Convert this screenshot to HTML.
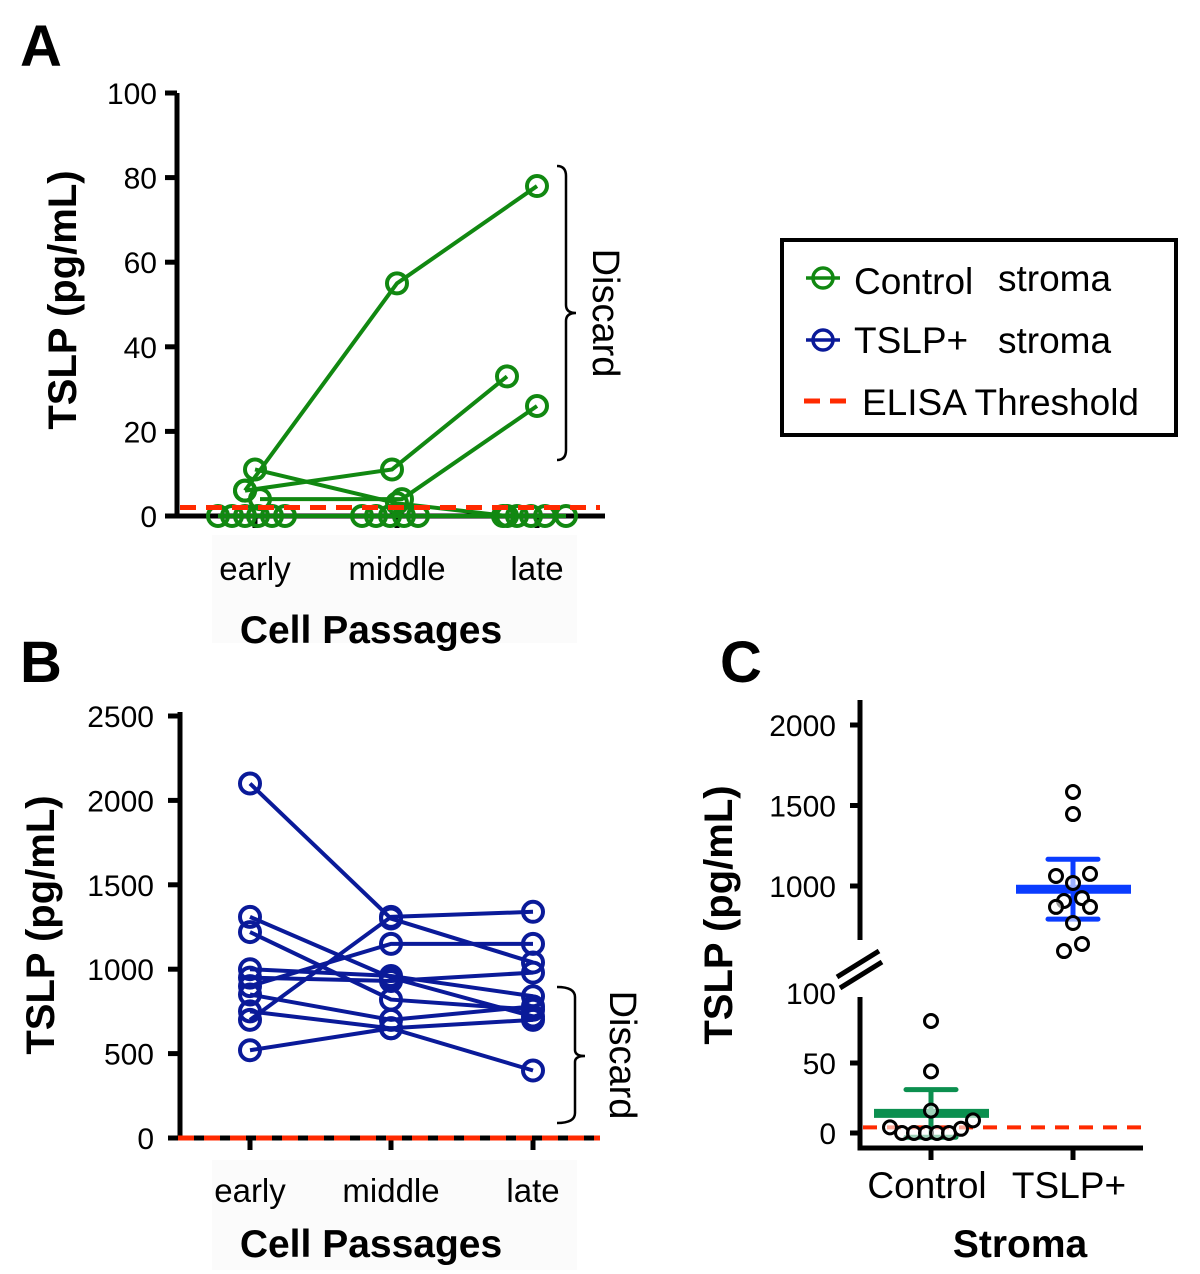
<!DOCTYPE html>
<html><head><meta charset="utf-8"><style>
html,body{margin:0;padding:0;background:#fff}
svg{display:block;font-family:"Liberation Sans",Arial,sans-serif}
</style></head><body>
<svg id="fig" width="1200" height="1274" viewBox="0 0 1200 1274" xmlns="http://www.w3.org/2000/svg">
<rect x="212" y="535" width="365" height="108" fill="#fbfbfb"/>
<rect x="212" y="1160" width="365" height="110" fill="#fbfbfb"/>
<text x="20" y="66" font-size="58" font-weight="bold">A</text>
<text x="20" y="682" font-size="58" font-weight="bold">B</text>
<text x="720" y="682" font-size="58" font-weight="bold">C</text>
<text transform="translate(76,300) rotate(-90)" text-anchor="middle" font-size="40" font-weight="bold">TSLP (pg/mL)</text>
<text transform="translate(54,925) rotate(-90)" text-anchor="middle" font-size="40" font-weight="bold">TSLP (pg/mL)</text>
<text transform="translate(732,915) rotate(-90)" text-anchor="middle" font-size="40" font-weight="bold">TSLP (pg/mL)</text>
<text x="371" y="643" text-anchor="middle" font-size="39" font-weight="bold">Cell Passages</text>
<text x="371" y="1257" text-anchor="middle" font-size="39" font-weight="bold">Cell Passages</text>
<text x="1020" y="1257" text-anchor="middle" font-size="39" font-weight="bold">Stroma</text>
<g>
<path d="M557,166 Q566,166 566,176 L566,305 Q566,313 576,313 Q566,313 566,321 L566,450 Q566,460 557,460" fill="none" stroke="#000" stroke-width="2.5"/>
<text transform="translate(593,313) rotate(90)" text-anchor="middle" font-size="38">Discard</text>
</g>
<g>
<path d="M557,987 Q575,987 575,997 L575,1050 Q575,1056 585,1056 Q575,1056 575,1062 L575,1113 Q575,1123 557,1123" fill="none" stroke="#000" stroke-width="2.5"/>
<text transform="translate(610,1055) rotate(90)" text-anchor="middle" font-size="38">Discard</text>
</g>
<g>
<rect x="782" y="240" width="394" height="195" fill="#fff" stroke="#000" stroke-width="4"/>
<line x1="806" y1="278" x2="840" y2="278" stroke="#118811" stroke-width="3.5"/>
<circle cx="823" cy="278" r="10" fill="none" stroke="#118811" stroke-width="3.5"/>
<text x="854" y="294" font-size="37">Control</text><text x="998" y="291" font-size="37">stroma</text>
<line x1="806" y1="340" x2="840" y2="340" stroke="#0a1a99" stroke-width="3.5"/>
<circle cx="823" cy="340" r="10" fill="none" stroke="#0a1a99" stroke-width="3.5"/>
<text x="854" y="353" font-size="37">TSLP+</text><text x="998" y="353" font-size="37">stroma</text>
<line x1="804" y1="401" x2="852" y2="401" stroke="#ff2a00" stroke-width="5" stroke-dasharray="16,10"/>
<text x="862" y="415" font-size="37">ELISA Threshold</text>
</g>
<g id="pa"></g><g id="pb"></g><g id="pc"></g>
</svg>
<script>
// Panel A data
const passages = ["early","middle","late"];
const aTicks = [0,20,40,60,80,100];
const aSeries = [[6,55,78],[11,3,0],[6,11,33],[4,4,26]];
const aSeriesX = [[-10,0,0],[0,0,-30],[-10,-5,-30],[5,5,0]];
const aZeroOffsets = [[-37,-23,-10,3,17,30],[-35,-21,-7,7,21],[-34,-20,-6,8,29]];
const aThreshold = 2;
// Panel B data
const bTicks = [0,500,1000,1500,2000,2500];
const bSeries = [[2100,1300,1040],[1310,950,720],[1220,820,760],[700,1310,1340],[900,1150,1150],[1000,960,840],[950,930,980],[850,700,780],[750,650,400],[520,650,700]];
const bThreshold = 0;
// Panel C data
const cGroups = ["Control","TSLP+"];
const cUpperTicks = [1000,1500,2000];
const cLowerTicks = [0,50,100];
const cControl = [4,0,0,0,0,0,3,9,16,44,80];
const cControlDx = [-41,-29,-17,-5,6,18,30,42,0,0,0];
const cTslp = [1584,1447,1062,1075,1019,907,925,870,870,770,640,596];
const cTslpDx = [0,0,-17,17,0,-9,9,-17,17,0,9,-9];
const cControlMean = 14, cControlSem = 17;
const cTslpMean = 980, cTslpSem = 186;
const cThreshold = 4;

const NS="http://www.w3.org/2000/svg";
function mk(parent,tag,attrs){const e=document.createElementNS(NS,tag);for(const k in attrs)e.setAttribute(k,attrs[k]);parent.appendChild(e);return e;}
const TF=30, XF=33;

// ---- Panel A
(function(){
const g=document.getElementById('pa');
const y=v=>516-v*4.23, xc=[255,397,537];
const ax=mk(g,'path',{d:'M177,93 L177,516 L605,516',fill:'none',stroke:'#000','stroke-width':5});


aTicks.forEach(t=>{mk(g,'line',{x1:165,x2:177,y1:y(t),y2:y(t),stroke:'#000','stroke-width':5});
const tl=mk(g,'text',{x:157,y:y(t)+11,'text-anchor':'end','font-size':TF});tl.textContent=t;

});
passages.forEach((p,i)=>{mk(g,'line',{x1:xc[i],x2:xc[i],y1:516,y2:528,stroke:'#000','stroke-width':5});
const tl=mk(g,'text',{x:xc[i],y:580,'text-anchor':'middle','font-size':XF});tl.textContent=p;

});
const C='#118811';
mk(g,'line',{x1:xc[0]+aZeroOffsets[0][0],x2:xc[2]+aZeroOffsets[2][4],y1:y(0),y2:y(0),stroke:C,'stroke-width':4});
aZeroOffsets.forEach((offs,i)=>offs.forEach(o=>{const c=mk(g,'circle',{cx:xc[i]+o,cy:y(0),r:10,fill:'none',stroke:C,'stroke-width':4});

}));
aSeries.forEach((s,k)=>{const pts=s.map((v,i)=>[xc[i]+aSeriesX[k][i],y(v)]);
const l=mk(g,'polyline',{points:pts.map(p=>p.join(',')).join(' '),fill:'none',stroke:C,'stroke-width':4});


pts.forEach(p=>{const c=mk(g,'circle',{cx:p[0],cy:p[1],r:10,fill:'none',stroke:C,'stroke-width':4});

});});
const th=mk(g,'line',{x1:180,x2:600,y1:y(aThreshold),y2:y(aThreshold),stroke:'#ff2a00','stroke-width':5,'stroke-dasharray':'16,10'});


})();

// ---- Panel B
(function(){
const g=document.getElementById('pb');
const y=v=>1138-v*0.1688, xc=[250,391,533];
const ax=mk(g,'path',{d:'M180,712 L180,1138 L600,1138',fill:'none',stroke:'#000','stroke-width':5});


bTicks.forEach(t=>{mk(g,'line',{x1:168,x2:180,y1:y(t),y2:y(t),stroke:'#000','stroke-width':5});
const tl=mk(g,'text',{x:154,y:y(t)+11,'text-anchor':'end','font-size':TF});tl.textContent=t;

});
passages.forEach((p,i)=>{mk(g,'line',{x1:xc[i],x2:xc[i],y1:1138,y2:1150,stroke:'#000','stroke-width':5});
const tl=mk(g,'text',{x:xc[i],y:1202,'text-anchor':'middle','font-size':XF});tl.textContent=p;

});
const C='#0a1a99';
bSeries.forEach(s=>{const pts=s.map((v,i)=>[xc[i],y(v)]);
const l=mk(g,'polyline',{points:pts.map(p=>p.join(',')).join(' '),fill:'none',stroke:C,'stroke-width':4});


pts.forEach(p=>{const c=mk(g,'circle',{cx:p[0],cy:p[1],r:10,fill:'none',stroke:C,'stroke-width':4});

});});
const th=mk(g,'line',{x1:178,x2:600,y1:y(bThreshold),y2:y(bThreshold),stroke:'#ff2a00','stroke-width':5,'stroke-dasharray':'16,10'});


})();

// ---- Panel C
(function(){
const g=document.getElementById('pc');
const yu=v=>886-(v-1000)*0.161, yl=v=>1133-v*1.4, xc=[931,1073];
const ax=mk(g,'path',{d:'M860,700 L860,940 M860,997 L860,1148 L1143,1148',fill:'none',stroke:'#000','stroke-width':5});


const br=mk(g,'path',{d:'M837,977 L879,951 M840,988 L882,962',fill:'none',stroke:'#000','stroke-width':5});


cUpperTicks.forEach(t=>{mk(g,'line',{x1:850,x2:860,y1:yu(t),y2:yu(t),stroke:'#000','stroke-width':5});
const tl=mk(g,'text',{x:836,y:yu(t)+11,'text-anchor':'end','font-size':TF});tl.textContent=t;

});
cLowerTicks.forEach(t=>{if(t<100)mk(g,'line',{x1:850,x2:860,y1:yl(t),y2:yl(t),stroke:'#000','stroke-width':5});
const tl=mk(g,'text',{x:836,y:yl(t)+11,'text-anchor':'end','font-size':TF});tl.textContent=t;

});
cGroups.forEach((p,i)=>{mk(g,'line',{x1:xc[i],x2:xc[i],y1:1148,y2:1160,stroke:'#000','stroke-width':5});
const tl=mk(g,'text',{x:xc[i]-4,y:1198,'text-anchor':'middle','font-size':37});tl.textContent=p;

});
function bar(x,ym,ylo,yhi,col,name){
const gg=mk(g,'g',{});


mk(gg,'line',{x1:x-57,x2:x+58,y1:ym,y2:ym,stroke:col,'stroke-width':9});
mk(gg,'line',{x1:x,x2:x,y1:yhi,y2:ylo,stroke:col,'stroke-width':5});
mk(gg,'line',{x1:x-25,x2:x+25,y1:yhi,y2:yhi,stroke:col,'stroke-width':5,'stroke-linecap':'round'});
mk(gg,'line',{x1:x-25,x2:x+25,y1:ylo,y2:ylo,stroke:col,'stroke-width':5,'stroke-linecap':'round'});}
bar(xc[0],yl(cControlMean),yl(cControlMean-cControlSem),yl(cControlMean+cControlSem),'#0b8f4f','panel-c-control-mean-sem');
bar(xc[1],yu(cTslpMean),yu(cTslpMean-cTslpSem),yu(cTslpMean+cTslpSem),'#0a3cff','panel-c-tslp-mean-sem');
const th=mk(g,'line',{x1:863,x2:1146,y1:yl(cThreshold),y2:yl(cThreshold),stroke:'#ff2a00','stroke-width':4,'stroke-dasharray':'14,10'});


cControl.forEach((v,i)=>{const c=mk(g,'circle',{cx:xc[0]+cControlDx[i],cy:yl(v),r:6.5,fill:'#fff','fill-opacity':0.6,stroke:'#000','stroke-width':3});

});
cTslp.forEach((v,i)=>{const c=mk(g,'circle',{cx:xc[1]+cTslpDx[i],cy:yu(v),r:6.5,fill:'#fff','fill-opacity':0.6,stroke:'#000','stroke-width':3});

});
})();
</script>
</body></html>
